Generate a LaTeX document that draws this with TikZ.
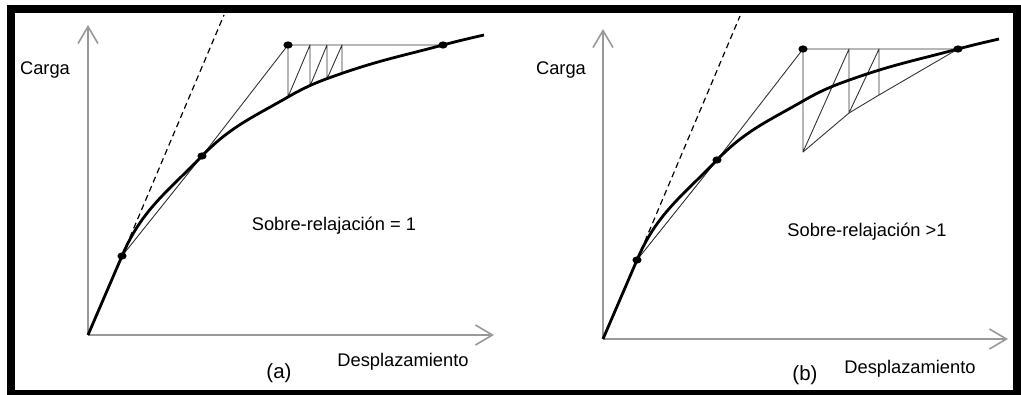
\documentclass[tikz,border=0pt]{standalone}
\usepackage{fontspec}
\setmainfont{Liberation Sans}
\usetikzlibrary{arrows.meta}

\tikzset{
  axis/.style={draw=black!40, line width=1.6pt, -{Straight Barb[length=17pt,width=20pt]}},
  curve/.style={line width=2.8pt, line join=round},
  secant/.style={black!80, line width=0.9pt, line join=round},
  initial/.style={dash pattern=on 6pt off 4pt, line width=1.2pt},
  lbl/.style={font=\fontsize{18.3}{20}\selectfont, inner sep=0pt},
  tag/.style={font=\fontsize{20.5}{22}\selectfont, inner sep=0pt},
}

\begin{document}
\begin{tikzpicture}[x=1pt,y=1pt]
  \useasboundingbox (0,0) rectangle (1021,394);
  % Marco
  \draw[line width=8pt] (11,0.5) rectangle (1017,385);

  % (a) Sobre-relajacion = 1
  \begin{scope}[shift={(88,59)}]
    \coordinate (Oa) at (0,0);
    \coordinate (A1) at (34,79);
    \coordinate (A2) at (114,179);
    \coordinate (A3) at (200,290);
    \coordinate (A4) at (355,290);
    \coordinate (Ka) at (136,320);
    % Ejes
    \draw[axis] (Oa) -- (0,310);
    \draw[axis] (Oa) -- (406,0);
    % Rigidez inicial
    \draw[initial] (A1) -- (Ka);
    % Iteraciones
    \draw[secant] (A1) -- (A2) -- (A3) -- (A4);
    \draw[secant] (A3) -- (200,238) -- (222,290) -- (222,249) -- (239,290)
      -- (239,256) -- (254,290) -- (254,262);
    % Curva carga-desplazamiento
    \draw[curve] (Oa) -- (A1) to[out=67,in=226] (A2) to[out=46,in=210] (200,238)
      to[out=30,in=199] (255,262) to[out=19,in=195] (A4) to[out=15,in=193] (396,300);
    \foreach \p in {A1,A2,A3,A4}
      \fill (\p) ellipse (4.6 and 3.6);
    % Textos
    \node[lbl] (cargaA) at (-43,265) {Carga};
    \node[lbl] (sobreA) at (246,109) {Sobre-relajación = 1};
    \node[lbl] (despA) at (315,-27) {Desplazamiento};
    \node[tag] (tagA) at (191,-38) {(a)};
  \end{scope}

  % (b) Sobre-relajacion > 1
  \begin{scope}[shift={(603,55)}]
    \coordinate (Ob) at (0,0);
    \coordinate (B1) at (34,79);
    \coordinate (B2) at (114,179);
    \coordinate (B3) at (200,290);
    \coordinate (B4) at (355,290);
    \coordinate (Kb) at (137,323);
    % Ejes
    \draw[axis] (Ob) -- (0,310);
    \draw[axis] (Ob) -- (405,0);
    % Rigidez inicial
    \draw[initial] (B1) -- (Kb);
    % Iteraciones
    \draw[secant] (B1) -- (B2) -- (B3) -- (B4);
    \draw[secant] (B3) -- (200,187) -- (246,290) -- (246,226) -- (276,290) -- (276,244);
    \draw[secant] (200,187) -- (246,226) -- (276,244) -- (B4);
    % Curva carga-desplazamiento
    \draw[curve] (Ob) -- (B1) to[out=67,in=226] (B2) to[out=46,in=210] (200,238)
      to[out=30,in=199] (255,262) to[out=19,in=195] (B4) to[out=15,in=193] (396,300);
    \foreach \p in {B1,B2,B3,B4}
      \fill (\p) ellipse (4.6 and 3.6);
    % Textos
    \node[lbl] (cargaB) at (-42,269) {Carga};
    \node[lbl] (sobreB) at (264,107) {Sobre-relajación >1};
    \node[lbl] (despB) at (307,-30) {Desplazamiento};
    \node[tag] (tagB) at (202,-36) {(b)};
  \end{scope}
\end{tikzpicture}
\end{document}
